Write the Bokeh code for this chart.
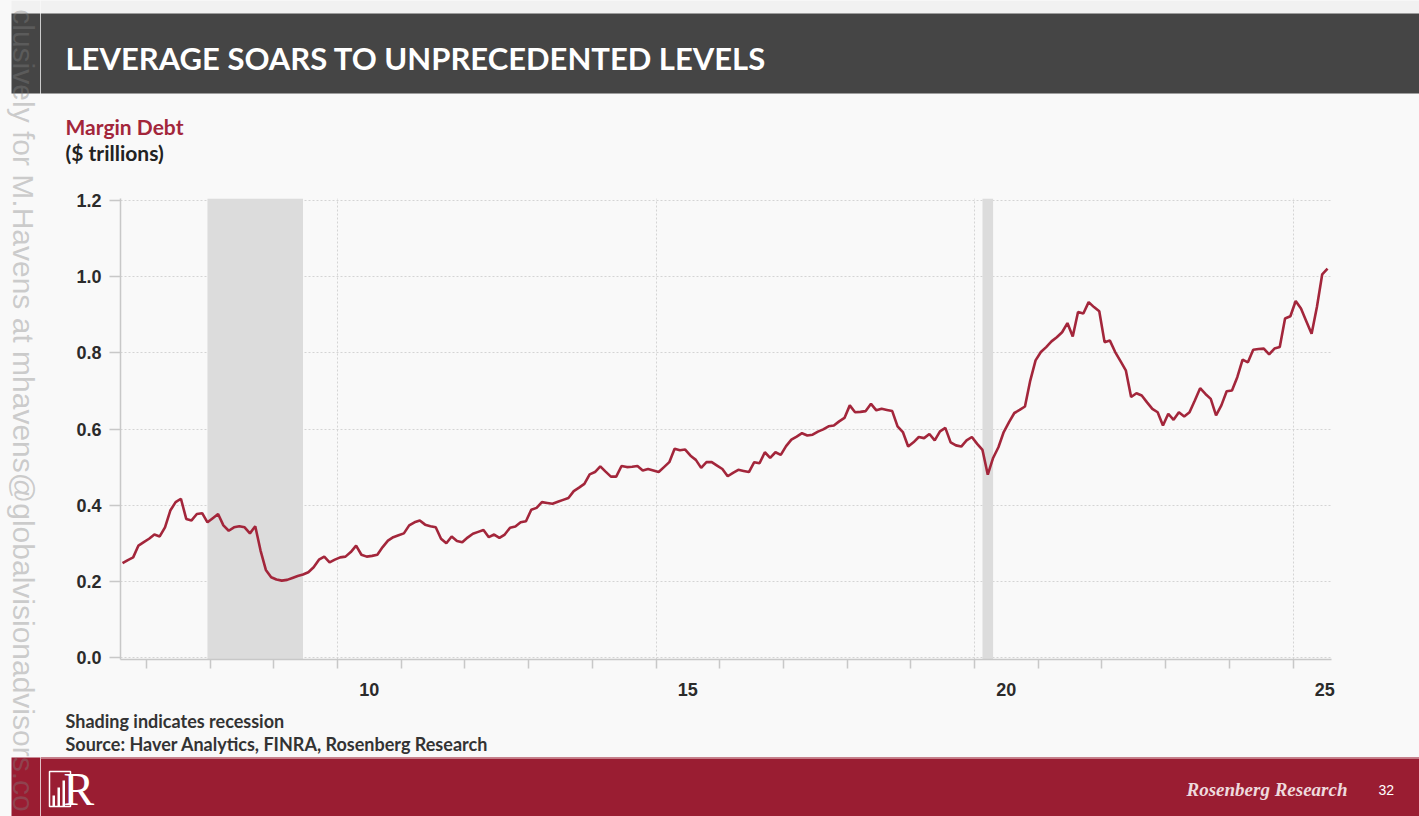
import math
import pandas as pd
from bokeh.plotting import figure
from bokeh.layouts import row, column
from bokeh.models import (Range1d, FixedTicker, CustomJSTickFormatter, BoxAnnotation,
                          PrintfTickFormatter)
from bokeh.core.properties import value
from bokeh.embed import file_html
from bokeh.resources import INLINE

# ---------------- data ----------------
first_month = "2006-08"
last_month = "2025-07"
margin_debt = [
    # 2006 (Aug-Dec)
    0.248, 0.256, 0.263, 0.294, 0.303,
    # 2007
    0.312, 0.323, 0.318, 0.342, 0.386, 0.408, 0.417, 0.364, 0.360, 0.377, 0.379, 0.355,
    # 2008
    0.366, 0.377, 0.347, 0.333, 0.342, 0.345, 0.342, 0.326, 0.345, 0.281, 0.230, 0.211,
    # 2009
    0.205, 0.202, 0.204, 0.209, 0.214, 0.218, 0.224, 0.237, 0.257, 0.265, 0.250, 0.257,
    # 2010
    0.263, 0.265, 0.277, 0.294, 0.270, 0.265, 0.267, 0.270, 0.290, 0.307, 0.316, 0.321,
    # 2011
    0.326, 0.347, 0.355, 0.360, 0.349, 0.345, 0.342, 0.312, 0.300, 0.318, 0.306, 0.303,
    # 2012
    0.315, 0.325, 0.330, 0.335, 0.316, 0.323, 0.314, 0.323, 0.341, 0.344, 0.355, 0.358,
    # 2013
    0.388, 0.393, 0.408, 0.406, 0.404, 0.409, 0.414, 0.419, 0.437, 0.446, 0.456, 0.481,
    # 2014
    0.487, 0.502, 0.488, 0.475, 0.475, 0.503, 0.500, 0.501, 0.503, 0.491, 0.495, 0.491,
    # 2015
    0.487, 0.500, 0.513, 0.548, 0.544, 0.546, 0.530, 0.519, 0.498, 0.513, 0.513, 0.504,
    # 2016
    0.495, 0.476, 0.485, 0.493, 0.490, 0.487, 0.513, 0.510, 0.539, 0.524, 0.539, 0.532,
    # 2017
    0.555, 0.572, 0.580, 0.589, 0.583, 0.585, 0.593, 0.599, 0.607, 0.609, 0.620, 0.629,
    # 2018
    0.662, 0.644, 0.645, 0.647, 0.666, 0.649, 0.653, 0.650, 0.647, 0.607, 0.592, 0.554,
    # 2019
    0.565, 0.579, 0.576, 0.587, 0.570, 0.594, 0.603, 0.565, 0.557, 0.554, 0.570, 0.579,
    # 2020
    0.561, 0.545, 0.480, 0.524, 0.552, 0.592, 0.618, 0.642, 0.650, 0.659, 0.727, 0.780,
    # 2021
    0.802, 0.815, 0.830, 0.841, 0.854, 0.878, 0.843, 0.907, 0.903, 0.933, 0.920, 0.909,
    # 2022
    0.828, 0.832, 0.802, 0.778, 0.754, 0.684, 0.694, 0.688, 0.670, 0.653, 0.644, 0.609,
    # 2023
    0.640, 0.624, 0.644, 0.633, 0.644, 0.675, 0.707, 0.692, 0.679, 0.636, 0.662, 0.699,
    # 2024
    0.701, 0.736, 0.782, 0.775, 0.808, 0.810, 0.811, 0.796, 0.811, 0.815, 0.890, 0.896,
    # 2025 (Jan-Jul)
    0.936, 0.916, 0.883, 0.850, 0.920, 1.006, 1.021,
]
recession_start = ["2007-12", "2020-02"]
recession_end = ["2009-06", "2020-04"]
x_label_years = [2010, 2015, 2020, 2025]
x_tick_years = list(range(2007, 2026))
y_ticks = [0.0, 0.2, 0.4, 0.6, 0.8, 1.0, 1.2]

title_text = "LEVERAGE SOARS TO UNPRECEDENTED LEVELS"
series_name = "Margin Debt"
unit_text = "($ trillions)"
note_text = "Shading indicates recession"
source_text = "Source: Haver Analytics, FINRA, Rosenberg Research"
brand_text = "Rosenberg Research"
page_text = "32"
# the part of the vertical watermark that is visible on the page
watermark_text = "clusively for M.Havens at mhavens@globalvisionadvisors.co"


def mid_month(ts):
    ts = pd.Timestamp(ts)
    return ts.year + (ts.month - 1) / 12 + 1 / 24


months = pd.date_range(first_month, last_month, freq="MS")
xs = [mid_month(m) for m in months]

# ---------------- page geometry (canvas px) ----------------
W, H = 1419, 816
STRIP = 40            # left strip carrying the watermark
TOP_H = 175           # title + subtitle band
BOT_Y = 705           # start of notes/footer band
FL, FR, FT, FB = 120, 1331, 198, 659   # chart frame edges
BG = "#f9f9f9"
RED = "#a3263b"
BAR = "#454545"
FOOT = "#9a1d32"


def canvas_fig(x0, x1, y0, y1):
    """A figure whose frame is the whole figure, in canvas-pixel coordinates."""
    f = figure(width=x1 - x0, height=y1 - y0,
               x_range=Range1d(x0, x1), y_range=Range1d(y1, y0),
               x_axis_location=None, y_axis_location=None,
               output_backend="svg", toolbar_location=None,
               min_border=0, background_fill_color=BG, border_fill_color=BG,
               outline_line_color=None, frame_align=False)
    f.grid.visible = False
    return f


def rect(f, l, r, t, b, color, line=None, lw=1.0):
    f.quad(left=[l], right=[r], top=[t], bottom=[b],
           fill_color=color, fill_alpha=1.0 if color else 0.0,
           line_color=line, line_width=lw)


def txt(f, x, y, text, size, color, font="Lato", style="bold", align="left",
        baseline="middle", angle=0.0, alpha=1.0):
    f.text(x=[x], y=[y], text=[text], text_font=value(font), text_font_style=style,
           text_font_size=f"{size}px", text_color=color, text_alpha=alpha,
           text_align=align, text_baseline=baseline, angle=angle)


# ---- left strip with watermark ----
strip = canvas_fig(0, STRIP, 0, H)
rect(strip, 11, STRIP, 0, 13, "#f1f1f1")
rect(strip, 11, STRIP, 13, 93, BAR)
rect(strip, 11, STRIP, 757, H, FOOT)
txt(strip, 23, 410, watermark_text, 30, "#808080", font="Liberation Sans", style="normal",
    align="center", baseline="middle", angle=-math.pi / 2, alpha=0.38)

# ---- top band ----
top = canvas_fig(STRIP, W, 0, TOP_H)
rect(top, STRIP, W, 0, 13, "#f1f1f1")
rect(top, STRIP, W, 13, 93, BAR)
txt(top, 65, 57, title_text, 31, "#ffffff")
txt(top, 65, 126, series_name, 21, RED)
txt(top, 65, 152, unit_text, 21, "#222222")

# ---- chart ----
p = figure(width=W - STRIP, height=BOT_Y - TOP_H,
           x_range=Range1d(2006.593, 2025.604), y_range=Range1d(-0.005, 1.205),
           output_backend="svg", toolbar_location=None,
           min_border_left=FL - STRIP, min_border_right=W - FR,
           min_border_top=FT - TOP_H, min_border_bottom=BOT_Y - FB,
           background_fill_color=BG, border_fill_color=BG, outline_line_color=None,
           frame_align=False)

p.xgrid.ticker = FixedTicker(ticks=x_label_years)
p.ygrid.ticker = FixedTicker(ticks=y_ticks)
for g in (p.xgrid, p.ygrid):
    g.grid_line_color = "#d4d4d4"
    g.grid_line_dash = "2 2"
    g.grid_line_width = 1

xa = p.xaxis[0]
xa.ticker = FixedTicker(ticks=[y + 0.5 for y in x_label_years], minor_ticks=x_tick_years)
xa.formatter = CustomJSTickFormatter(code="return String(Math.floor(tick) % 100).padStart(2, '0');")
xa.major_tick_out = 0
xa.major_tick_in = 0
xa.minor_tick_out = 9
xa.minor_tick_in = 0
xa.minor_tick_line_color = "#c8c8c8"
xa.minor_tick_line_width = 1.5
xa.axis_line_color = "#c8c8c8"
xa.axis_line_width = 1.5
xa.major_label_standoff = 14
xa.major_label_text_font = "Liberation Sans"
xa.major_label_text_font_style = "bold"
xa.major_label_text_font_size = "18px"
xa.major_label_text_color = "#2b2b2b"

ya = p.yaxis[0]
ya.ticker = FixedTicker(ticks=y_ticks)
ya.formatter = PrintfTickFormatter(format="%.1f")
ya.major_tick_out = 11
ya.major_tick_in = 0
ya.minor_tick_line_color = None
ya.major_tick_line_color = "#c8c8c8"
ya.major_tick_line_width = 1.5
ya.axis_line_color = "#c8c8c8"
ya.axis_line_width = 1.5
ya.major_label_standoff = 8
ya.major_label_text_font = "Liberation Sans"
ya.major_label_text_font_style = "bold"
ya.major_label_text_font_size = "18px"
ya.major_label_text_color = "#2b2b2b"

for s, e in zip(recession_start, recession_end):
    p.add_layout(BoxAnnotation(left=mid_month(s), right=mid_month(e),
                               fill_color="#dcdcdc", fill_alpha=1.0,
                               line_color=None, level="underlay"))

p.line(xs, margin_debt, line_color=RED, line_width=2.6)

# ---- bottom band ----
bot = canvas_fig(STRIP, W, BOT_Y, H)
txt(bot, 65, 720, note_text, 18, "#333333")
txt(bot, 65, 743, source_text, 18, "#333333")
rect(bot, STRIP, W, 757, H, FOOT)
rect(bot, STRIP, W, 757, 758.5, "#c47a86")
# logo
rect(bot, 49, 70, 771, 806, None, line="#ffffff", lw=1.5)
rect(bot, 52, 54.5, 795, 806, "#ffffff")
rect(bot, 57, 59.5, 787, 806, "#ffffff")
rect(bot, 62, 64.5, 780, 806, "#ffffff")
txt(bot, 63, 789, "R", 46, "#ffffff", font="Liberation Serif", style="normal",
    baseline="middle")
txt(bot, 1186, 789, brand_text, 19, "#eedadd", font="Liberation Serif", style="bold italic")
txt(bot, 1378, 789, page_text, 14, "#ffffff", font="Liberation Sans", style="normal")

layout = row(strip, column(top, p, bot, spacing=0, styles={"background-color": BG}),
             spacing=0, styles={"background-color": BG})
open("out.html", "w").write(file_html(layout, INLINE))
